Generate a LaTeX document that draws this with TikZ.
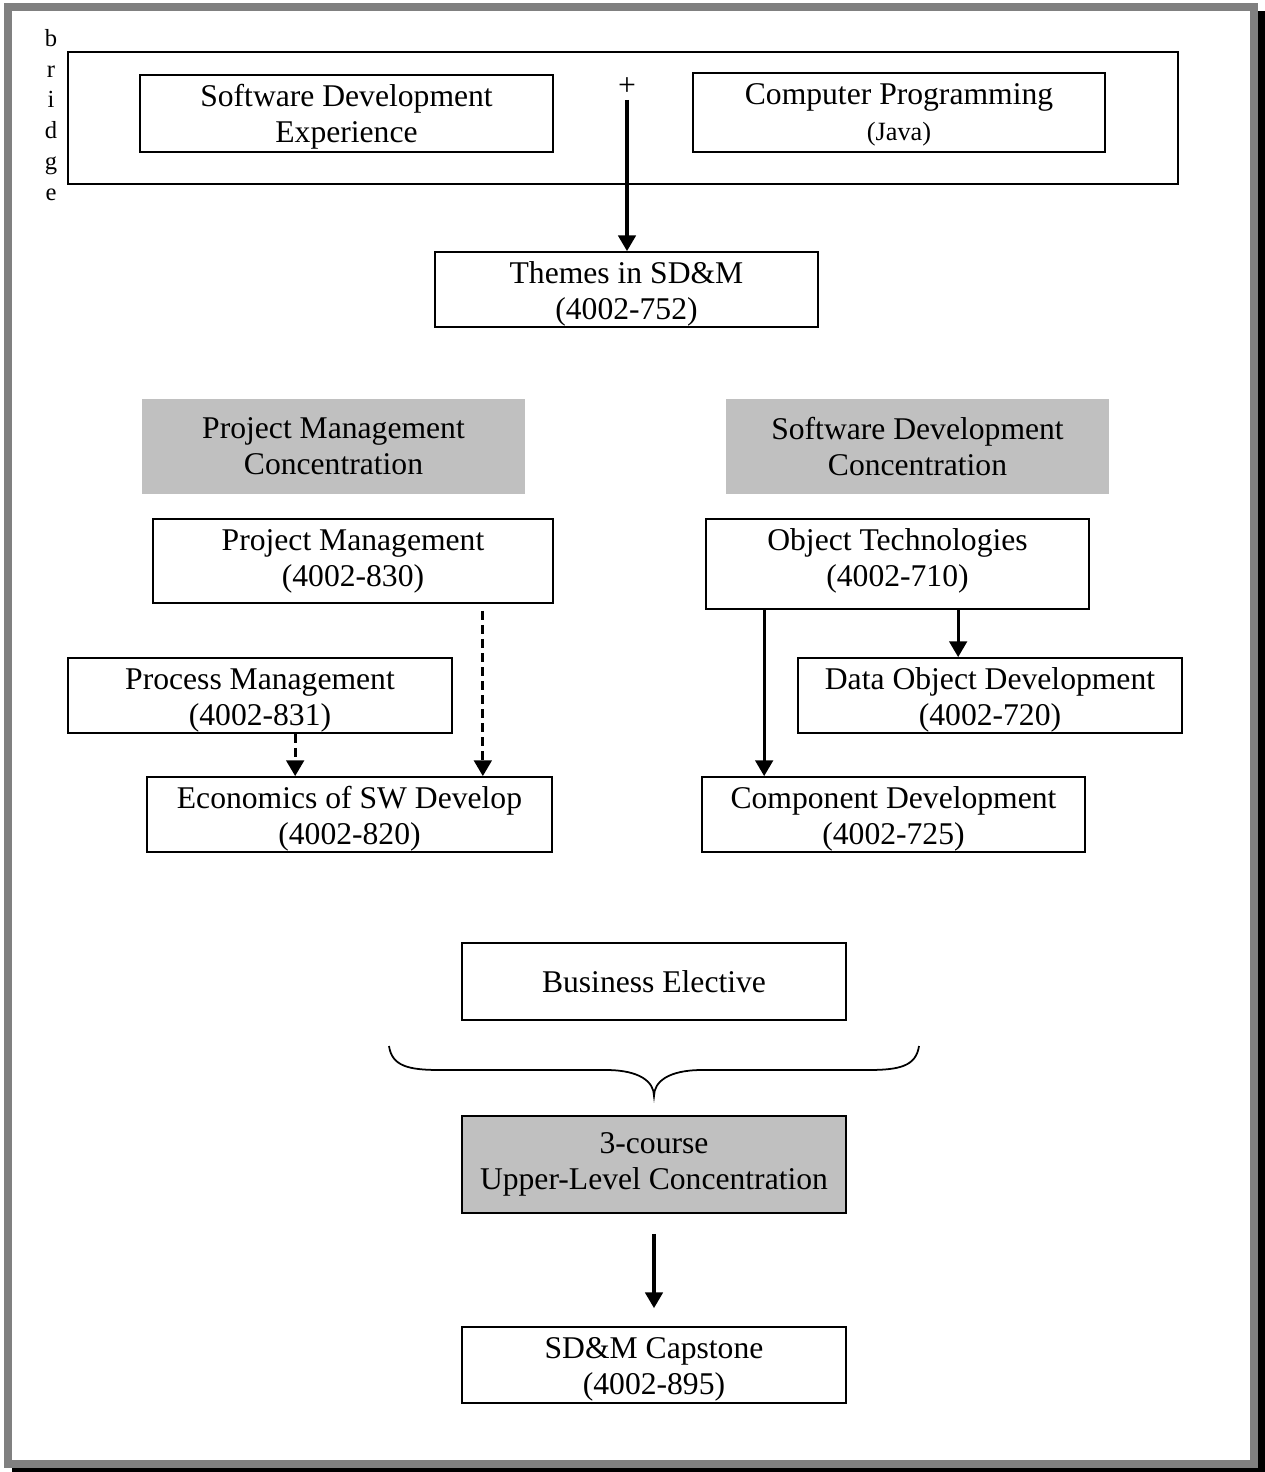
\documentclass[tikz,border=0pt]{standalone}
\usepackage{fontspec}
\setmainfont{Liberation Serif}
\usetikzlibrary{arrows.meta, calc}
\definecolor{framegray}{HTML}{808080}
\definecolor{concgray}{HTML}{C0C0C0}

\begin{document}
\begin{tikzpicture}[
    x=0.02cm, y=-0.02cm,
    course/.style={rectangle, draw=black, line width=1pt, inner sep=0pt, align=center, font=\fontsize{18}{20.5}\selectfont},
    textlabel/.style={font=\fontsize{18}{20.5}\selectfont, align=center, inner sep=0pt, anchor=north, yshift=-4pt},
    coursetext/.style={label={[textlabel]north:{\strut #1}}},
    conc/.style={rectangle, fill=concgray, inner sep=0pt, align=center, minimum width=7.66cm, minimum height=1.9cm, font=\fontsize{18}{20.5}\selectfont},
    small/.style={font=\fontsize{14}{17.6}\selectfont, inner sep=0pt, align=center},
    arrow/.style={-{Triangle[length=9pt, width=10pt]}, line width=1.8pt},
    dasharrow/.style={arrow, dash pattern=on 5pt off 3pt}
]
\useasboundingbox (0,0) rectangle (1265,1472);

% Page frame with shadow
\fill[black] (12,11) rectangle (1265,1472);
\draw[framegray, line width=0.16cm, fill=white] (8,7) rectangle (1254,1464);

% Top: bridge courses
\node[small] (bridge) at (51,115) {b\\r\\i\\d\\g\\e};
\node[course, minimum width=22.2cm, minimum height=2.64cm] (bridgebox) at (623,118) {};
\node[course, minimum width=8.26cm, minimum height=1.54cm, coursetext={Software Development\\Experience}] (sde) at (346.5,113.5) {};
\node[course, minimum width=8.24cm, minimum height=1.58cm, coursetext={Computer Programming\\{\fontsize{15}{17}\selectfont (Java)}}] (cp) at (899,112.5) {};
\node[small, font=\fontsize{18}{20}\selectfont] (plus) at (627,87) {+};
\node[course, minimum width=7.66cm, minimum height=1.5cm, coursetext={Themes in SD\&M\\(4002-752)}] (themes) at (626.5,289.5) {};

% Middle: two concentrations
\node[conc] (pmconc) at (333.5,446.5) {Project Management\\Concentration};
\node[conc] (sdconc) at (917.5,446.5) {Software Development\\Concentration};

\node[course, minimum width=8.0cm, minimum height=1.68cm, coursetext={Project Management\\(4002-830)}] (pm) at (353,561) {};
\node[course, minimum width=7.68cm, minimum height=1.5cm, coursetext={Process Management\\(4002-831)}] (procm) at (260,695.5) {};
\node[course, minimum width=8.1cm, minimum height=1.5cm, coursetext={Economics of SW Develop\\(4002-820)}] (econ) at (349.5,814.5) {};

\node[course, minimum width=7.66cm, minimum height=1.8cm, coursetext={Object Technologies\\(4002-710)}] (ot) at (897.5,564) {};
\node[course, minimum width=7.68cm, minimum height=1.5cm, coursetext={Data Object Development\\(4002-720)}] (dod) at (990,695.5) {};
\node[course, minimum width=7.66cm, minimum height=1.5cm, coursetext={Component Development\\(4002-725)}] (comp) at (893.5,814.5) {};

% Bottom
\node[course, minimum width=7.68cm, minimum height=1.54cm] (busel) at (654,981.5) {Business Elective};
\node[course, fill=concgray, minimum width=7.68cm, minimum height=1.94cm] (conc3) at (654,1164.5) {3-course\\Upper-Level Concentration};
\node[course, minimum width=7.68cm, minimum height=1.52cm, coursetext={SD\&M Capstone\\(4002-895)}] (capstone) at (654,1365) {};

% Connectors
\draw[arrow, shorten <=2pt] (plus.south) -- (plus.south |- themes.north);

\path (pm.south east) ++(-71,0) coordinate (pmdash);
\draw[dasharrow, shorten <=0.14cm] (pmdash) -- (pmdash |- econ.north);
\path (procm.south west) ++(228,0) coordinate (procdash);
\draw[dasharrow] (procdash) -- (procdash |- econ.north);

\path (ot.south west) ++(59,0) coordinate (otleft);
\draw[arrow] (otleft) -- (otleft |- comp.north);
\path (ot.south west) ++(253,0) coordinate (otright);
\draw[arrow] (otright) -- (otright |- dod.north);

\draw[arrow, shorten <=0.4cm, shorten >=0.36cm] (conc3.south) -- (capstone.north);

% Brace over the concentration
\draw[line width=1pt] (389,1046) .. controls (392,1066) and (408,1070) .. (440,1070)
    -- (606,1070) .. controls (640,1070) and (654,1082) .. (654,1096)
    .. controls (654,1082) and (668,1070) .. (702,1070)
    -- (868,1070) .. controls (900,1070) and (916,1066) .. (919,1046);

\end{tikzpicture}
\end{document}
